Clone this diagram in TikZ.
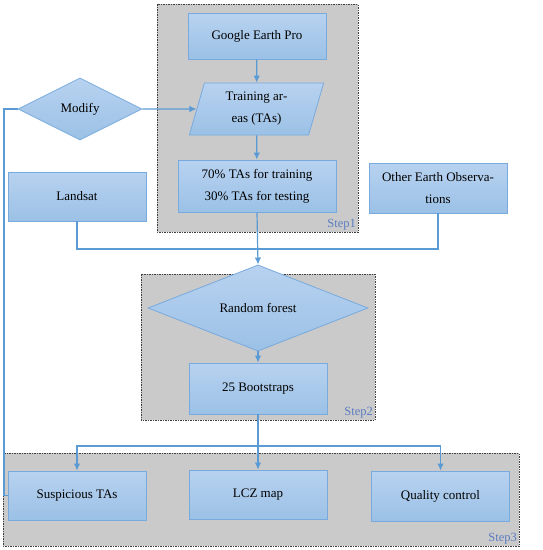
\documentclass[tikz,border=0pt]{standalone}
\usepackage{fontspec}
\setmainfont{Liberation Serif}
\usetikzlibrary{shapes.geometric, arrows.meta}
\definecolor{boxTop}{RGB}{184,210,240}
\definecolor{boxBottom}{RGB}{155,193,230}
\definecolor{boxLine}{RGB}{120,170,222}
\definecolor{flowLine}{RGB}{91,155,213}
\definecolor{stepFill}{RGB}{202,202,202}
\definecolor{stepText}{RGB}{92,125,192}
\tikzstyle{chart} = [x = 1pt, y = -1pt, font=\fontsize{13}{22}\selectfont, >={Latex[length=7pt, width=6.5pt]}]
\tikzstyle{flowBox} = [draw=boxLine, top color=boxTop, bottom color=boxBottom, thick, align=center, inner sep=0pt]
\tikzstyle{processBox} = [flowBox, rectangle, minimum width=138pt, minimum height=49pt]
\tikzstyle{decisionBox} = [flowBox, diamond, minimum height=62pt]
\tikzstyle{inputBox} = [flowBox, trapezium, trapezium left angle=75, trapezium right angle=105, trapezium stretches=true, minimum width=135pt, minimum height=52pt]
\tikzstyle{stepBox} = [draw=black!75, dash pattern=on 1.5pt off 1pt, fill=stepFill, thin]
\tikzstyle{stepLabel} = [color=stepText, anchor=south east, inner sep=2pt, font=\fontsize{12.5}{14}\selectfont]
\tikzstyle{flow} = [color=flowLine, line width=1.2pt]

\begin{document}
\begin{tikzpicture}[chart]
  \useasboundingbox (0,0) rectangle (543,550);

  % step frames
  \filldraw [stepBox] (157,4) rectangle (358,232);
  \node [stepLabel] (stepOne) at (358,232) {Step1};
  \filldraw [stepBox] (141,274) rectangle (375,420);
  \node [stepLabel] (stepTwo) at (375,420) {Step2};
  \filldraw [stepBox] (3,453) rectangle (519,546);
  \node [stepLabel] (stepThree) at (519,546) {Step3};

  % boxes
  \node [processBox, minimum height=46pt] (earth) at (257,36) {Google Earth Pro};
  \node [inputBox] (areas) at (256.5,109) {Training ar-\\eas (TAs)};
  \node [processBox, minimum width=158pt, minimum height=52pt] (split) at (257,186) {70\% TAs for training\\30\% TAs for testing};
  \node [decisionBox, minimum width=124pt] (modify) at (80,109) {Modify};
  \node [processBox] (landsat) at (77,196.5) {Landsat};
  \node [processBox, minimum height=50pt] (other) at (438,188) {Other Earth Observa-\\tions};
  \node [decisionBox, minimum width=220pt] (forest) at (258,308) {Random forest};
  \node [processBox, minimum height=51pt] (boot) at (258,388.5) {25 Bootstraps};
  \node [processBox] (suspicious) at (77,495.5) {Suspicious TAs};
  \node [processBox] (lcz) at (258,494.5) {LCZ map};
  \node [processBox, minimum height=50pt] (quality) at (440.5,496) {Quality control};

  % connectors
  \coordinate (merge) at (258,249);
  \coordinate (branch) at (258,446);
  \coordinate (loopLeft) at (4,0);
  \draw [flow, ->] (earth) -- (areas);
  \draw [flow, ->] (areas) -- (split);
  \draw [flow, ->] (modify.east) -- (areas.west);
  \draw [flow] (suspicious.west) -| (loopLeft |- modify.west) -- (modify.west);
  \draw [flow] (landsat.south) |- (merge) -| (other.south);
  \draw [flow, ->] (split.south) -- (forest.north);
  \draw [flow, ->] (forest) -- (boot);
  \draw [flow, ->] (boot.south) -- (lcz.north);
  \draw [flow, ->] (branch) -| (suspicious.north);
  \draw [flow, ->] (branch) -| (quality.north);
\end{tikzpicture}
\end{document}
